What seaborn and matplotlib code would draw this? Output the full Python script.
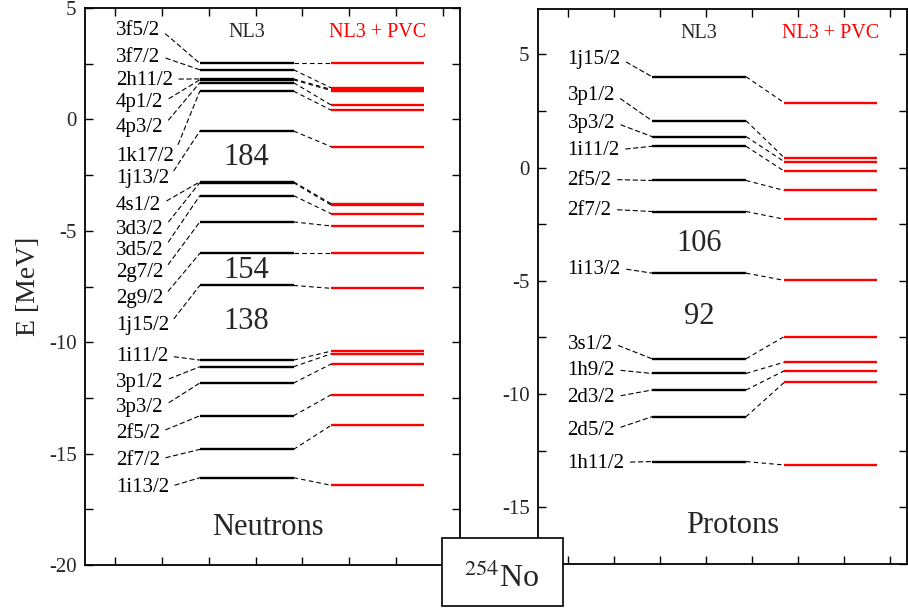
import numpy as np
import pandas as pd
import matplotlib
matplotlib.use("Agg")
import matplotlib.pyplot as plt
from matplotlib.patches import Rectangle
from matplotlib.ticker import MultipleLocator
import seaborn as sns

# ---- neutron levels (E in MeV) ----
neutron_labels = ["3f5/2", "3f7/2", "2h11/2", "4p1/2", "4p3/2", "1k17/2", "1j13/2",
                  "4s1/2", "3d3/2", "3d5/2", "2g7/2", "2g9/2", "1j15/2",
                  "1i11/2", "3p1/2", "3p3/2", "2f5/2", "2f7/2", "1i13/2"]
neutron_label_e = [4.01, 2.80, 1.77, 0.74, -0.34, -1.64, -2.67,
                   -3.84, -4.92, -5.86, -6.85, -8.02, -9.27,
                   -10.66, -11.79, -12.91, -14.08, -15.29, -16.54]
neutron_nl3 = [2.52, 2.23, 1.82, 1.78, 1.65, 1.27, -0.52,
               -2.80, -2.84, -3.42, -4.60, -6.01, -7.45,
               -10.80, -11.10, -11.83, -13.30, -14.81, -16.08]
neutron_pvc = [2.52, 1.42, 1.35, 1.30, 0.65, 0.42, -1.22,
               -3.78, -3.84, -4.23, -4.78, -6.01, -7.58,
               -10.40, -10.52, -10.98, -12.36, -13.73, -16.42]
neutron_gaps = ["184", "154", "138"]
neutron_gap_e = [-1.69, -6.76, -9.09]

# ---- proton levels (E in MeV) ----
proton_labels = ["1j15/2", "3p1/2", "3p3/2", "1i11/2", "2f5/2", "2f7/2",
                 "1i13/2", "3s1/2", "1h9/2", "2d3/2", "2d5/2", "1h11/2"]
proton_label_e = [4.76, 3.17, 1.94, 0.75, -0.57, -1.89,
                  -4.49, -7.80, -8.97, -10.16, -11.59, -13.05]
proton_nl3 = [4.01, 2.07, 1.37, 0.94, -0.57, -1.94,
              -4.66, -8.44, -9.09, -9.82, -11.00, -12.98]
proton_pvc = [2.86, 0.43, 0.26, -0.16, -1.01, -2.28,
              -4.98, -7.46, -8.59, -8.97, -9.48, -13.13]
proton_gaps = ["106", "92"]
proton_gap_e = [-3.35, -6.56]


sns.set_theme(style="ticks")
plt.rcParams["font.family"] = ["Liberation Serif", "DejaVu Serif"]
plt.rcParams["mathtext.fontset"] = "stix"
plt.rcParams["axes.unicode_minus"] = False

fig = plt.figure(figsize=(9.08, 6.08), dpi=100)
ax_n = fig.add_axes([0.0936, 0.0707, 0.413, 0.916])
ax_p = fig.add_axes([0.5925, 0.0724, 0.4064, 0.9128])

dash = (0, (4, 3))


def draw_panel(ax, labels, label_e, nl3, pvc, gaps, gap_e, head_e, xs):
    # xs: label x, NL3 start/end, PVC start/end
    xl, a0, a1, b0, b1 = xs
    ax.hlines(nl3, a0, a1, color="black", lw=1.7)
    ax.hlines(pvc, b0, b1, color="red", lw=1.7)
    for e1, e2 in zip(nl3, pvc):
        ax.plot([a1, b0], [e1, e2], color="black", lw=0.8, ls=dash)
    for lab, el, e1 in zip(labels, label_e, nl3):
        ax.annotate(lab, xy=(a0, e1), xytext=(xl, el), ha="left", va="center",
                    fontsize=15, color="black",
                    arrowprops=dict(arrowstyle="-", color="black", lw=0.8,
                                    linestyle=dash, shrinkA=2, shrinkB=0,
                                    relpos=(1, 0.55)))
    for g, e in zip(gaps, gap_e):
        ax.text((a0 + a1) / 2, e, g, ha="center", va="center", fontsize=22)
    ax.text((a0 + a1) / 2, head_e, "NL3", ha="center", va="center", fontsize=14.5)
    ax.text((b0 + b1) / 2, head_e, "NL3 + PVC", ha="center", va="center",
            fontsize=14.5, color="red")
    ax.set_xlim(0, 8)
    ax.set_xticks(np.arange(0.64, 8, 1))
    ax.yaxis.set_major_locator(MultipleLocator(5))
    ax.yaxis.set_minor_locator(MultipleLocator(2.5))
    ax.tick_params(which="both", direction="in", top=True, right=True,
                   length=6, width=1, color="black", labelbottom=False,
                   labelsize=15, pad=6)
    for s in ax.spines.values():
        s.set_linewidth(1.3)
        s.set_color("black")


draw_panel(ax_n, neutron_labels, neutron_label_e, neutron_nl3, neutron_pvc,
           neutron_gaps, neutron_gap_e, 3.92, (0.66, 2.45, 4.45, 5.25, 7.23))
ax_n.set_ylim(-20, 5)
ax_n.set_ylabel("E [MeV]", fontsize=20, labelpad=6)
ax_n.text(3.9, -18.3, "Neutrons", ha="center", va="center", fontsize=22)

draw_panel(ax_p, proton_labels, proton_label_e, proton_nl3, proton_pvc,
           proton_gaps, proton_gap_e, 5.9, (0.64, 2.47, 4.51, 5.34, 7.35))
ax_p.set_ylim(-17.5, 7)
ax_p.text(4.23, -15.8, "Protons", ha="center", va="center", fontsize=22)

# nucleus box
fig.patches.append(Rectangle((0.4868, 0.0033), 0.1333, 0.1118, transform=fig.transFigure,
                             facecolor="white", edgecolor="black", lw=1.2, zorder=5))
fig.text(0.553, 0.048, r"$^{254}$No", ha="center", va="center", fontsize=23, zorder=6)

fig.savefig("out.png", dpi=100)
